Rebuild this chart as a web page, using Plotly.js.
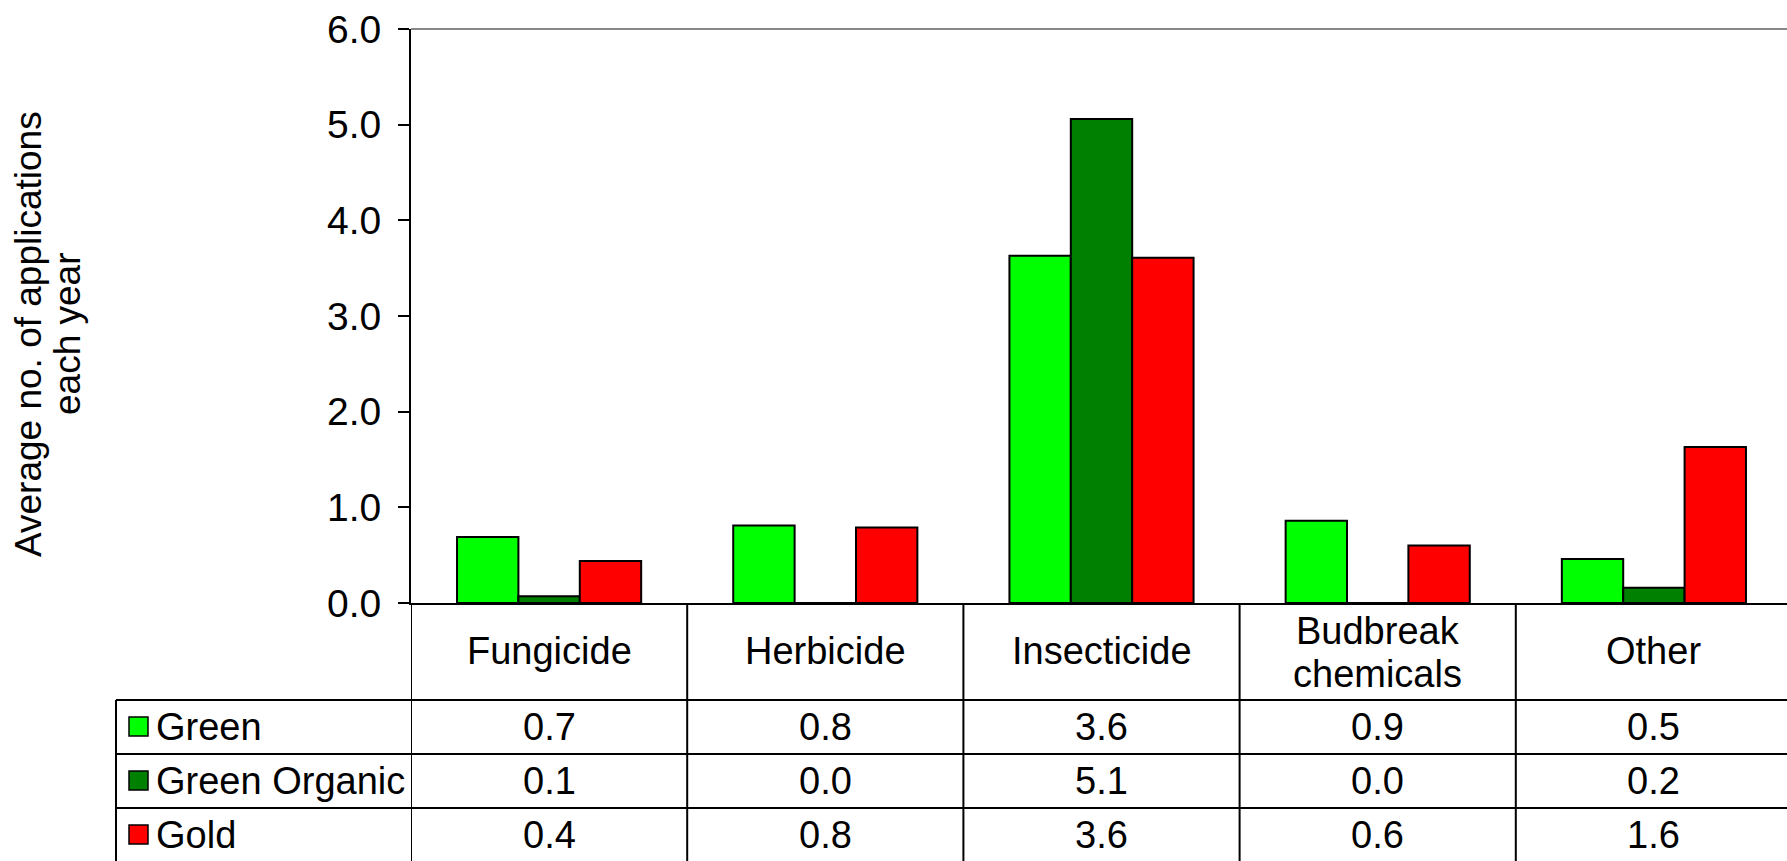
<!DOCTYPE html>
<html>
<head>
<meta charset="utf-8">
<script src="https://cdn.plot.ly/plotly-3.0.1.min.js"></script>
<style>
  html, body { margin: 0; padding: 0; overflow: hidden; background: #fff; }
  #chart { width: 1800px; height: 861px; }
</style>
</head>
<body>
<div id="chart"></div>
<script>
// ---- data ----
const categories = ['Fungicide', 'Herbicide', 'Insecticide', 'Budbreak chemicals', 'Other'];
const seriesNames = ['Green', 'Green Organic', 'Gold'];
const green = [0.69, 0.81, 3.63, 0.86, 0.46];
const greenOrganic = [0.07, 0.0, 5.06, 0.0, 0.16];
const gold = [0.44, 0.79, 3.61, 0.60, 1.63];
const yTickVals = [0, 1, 2, 3, 4, 5, 6];
const yTitleLines = ['Average no. of applications', 'each year'];

// ---- styles / geometry ----
const seriesColors = ['#00FF00', '#008000', '#FF0000'];
const series = [green, greenOrganic, gold];
const W = 1800, H = 861;
const L = 411, R = 1792, T = 29, B = 603;
const PW = R - L, PH = B - T;
const px2x = X => (X - L) / PW;
const py2y = Y => (B - Y) / PH;
const FONT = 'Liberation Sans, Arial, sans-serif';
const FS = 38;
const TICKFS = 39;
const TITLEFS = 37;

const catRowBottom = 700;
const rowH = 54;
const legendLeft = 116;
const bottomY = 875;

const traces = series.map((vals, i) => ({
  type: 'bar',
  name: seriesNames[i],
  x: categories,
  y: vals,
  marker: { color: seriesColors[i], line: { color: '#000', width: 2 } },
  showlegend: false,
  hoverinfo: 'skip'
}));

const shapes = [];
const annotations = [];

// top plot border (grey)
shapes.push({ type: 'line', xref: 'paper', yref: 'paper', x0: 0, x1: 1.01, y0: 1, y1: 1,
  line: { color: '#888888', width: 2 } });

// horizontal table lines
for (let r = 0; r < seriesNames.length; r++) {
  const Y = catRowBottom + r * rowH;
  shapes.push({ type: 'line', xref: 'paper', yref: 'paper', x0: px2x(legendLeft), x1: 1.01,
    y0: py2y(Y), y1: py2y(Y), line: { color: '#000', width: 2 } });
}
// vertical category separators
for (let i = 0; i <= categories.length; i++) {
  shapes.push({ type: 'line', xref: 'x', yref: 'paper', x0: i - 0.5, x1: i - 0.5,
    y0: 0, y1: py2y(bottomY), line: { color: '#000', width: 2 } });
}
// legend column left edge
shapes.push({ type: 'line', xref: 'paper', yref: 'paper', x0: px2x(legendLeft), x1: px2x(legendLeft),
  y0: py2y(catRowBottom), y1: py2y(bottomY), line: { color: '#000', width: 2 } });

// category labels
categories.forEach((c, i) => {
  const lines = c.length > 12 ? c.split(' ') : [c];
  const centers = lines.length === 1 ? [651] : [631, 674];
  lines.forEach((ln, k) => {
    annotations.push({ xref: 'x', yref: 'paper', x: c, y: py2y(centers[k]),
      text: ln, showarrow: false, xanchor: 'center', yanchor: 'middle',
      font: { family: FONT, size: FS, color: '#000' } });
  });
});

// table rows
seriesNames.forEach((name, r) => {
  const cy = catRowBottom + r * rowH + rowH / 2;
  shapes.push({ type: 'rect', xref: 'paper', yref: 'paper',
    x0: px2x(129), x1: px2x(148), y0: py2y(cy - 10), y1: py2y(cy + 9),
    fillcolor: seriesColors[r], line: { color: '#000', width: 1.5 } });
  annotations.push({ xref: 'paper', yref: 'paper', x: px2x(154), y: py2y(cy),
    text: name, showarrow: false, xanchor: 'left', yanchor: 'middle',
    font: { family: FONT, size: FS, color: '#000' } });
  series[r].forEach((v, i) => {
    annotations.push({ xref: 'x', yref: 'paper', x: categories[i], y: py2y(cy),
      text: v.toFixed(1), showarrow: false, xanchor: 'center', yanchor: 'middle',
      font: { family: FONT, size: FS, color: '#000' } });
  });
});

// y-axis title (two lines)
const titleX = [28, 67];
yTitleLines.forEach((t, k) => {
  annotations.push({ xref: 'paper', yref: 'paper', x: px2x(titleX[k]), y: py2y(334),
    text: t, textangle: -90, showarrow: false, xanchor: 'center', yanchor: 'middle',
    font: { family: FONT, size: TITLEFS, color: '#000' } });
});

const layout = {
  width: W, height: H,
  margin: { l: L, r: W - R, t: T, b: H - B, pad: 0 },
  paper_bgcolor: '#fff', plot_bgcolor: '#fff',
  barmode: 'group', bargap: 1 / 3, bargroupgap: 0,
  font: { family: FONT, size: FS, color: '#000' },
  xaxis: { type: 'category', range: [-0.5, 4.5], showticklabels: false, ticks: '',
    showline: true, linecolor: '#000', linewidth: 2, showgrid: false, zeroline: false },
  yaxis: { range: [0, 6], tickvals: yTickVals, tickformat: '.1f', ticks: 'outside',
    ticklen: 11, tickwidth: 2, tickcolor: '#000', showline: true, linecolor: '#000',
    linewidth: 2, showgrid: false, zeroline: false, ticklabelstandoff: 9,
    tickfont: { family: FONT, size: TICKFS, color: '#000' } },
  shapes: shapes,
  annotations: annotations
};

Plotly.newPlot('chart', traces, layout, { staticPlot: true, displayModeBar: false });
</script>
</body>
</html>
